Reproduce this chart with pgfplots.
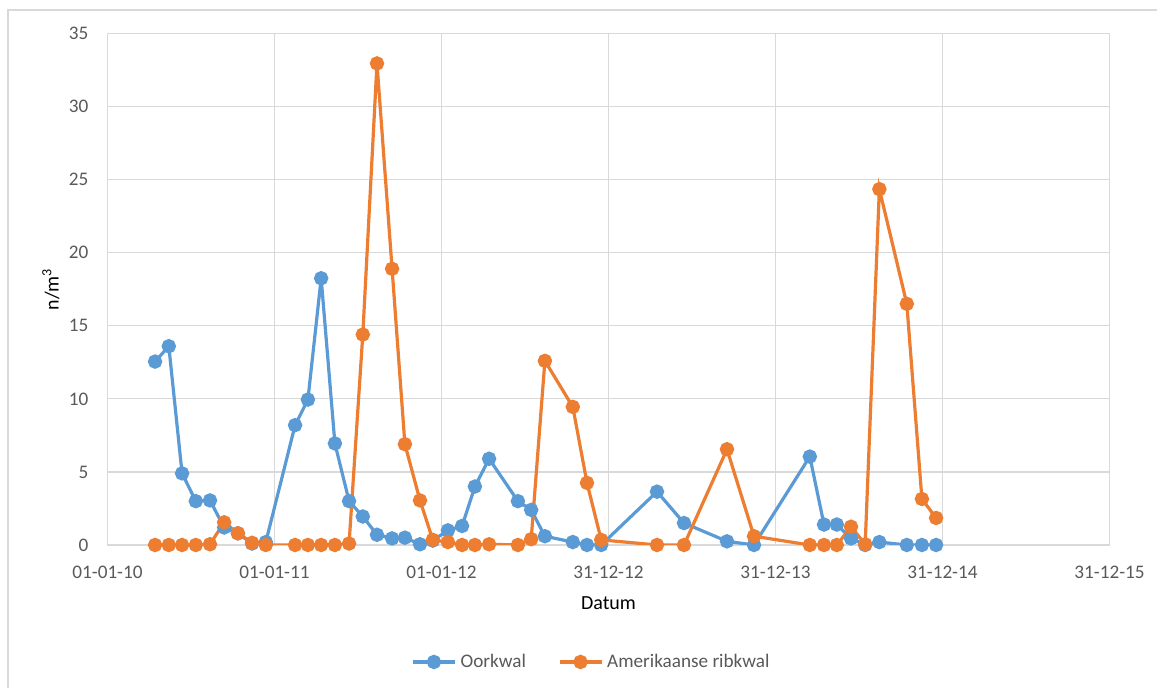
\documentclass[border=0pt]{standalone}
\usepackage{pgfplots}
\pgfplotsset{compat=1.18}
\usepackage{fontspec}
\setmainfont{Carlito}
\definecolor{txt}{HTML}{595959}
\definecolor{gridc}{HTML}{D9D9D9}
\definecolor{axc}{HTML}{BFBFBF}
\definecolor{cblue}{HTML}{5B9BD5}
\definecolor{corange}{HTML}{ED7D31}
\pgfplotstableread{
x y
104 12.55
134 13.6
163 4.9
193 3.0
224 3.05
255 1.2
285 0.8
316 0.1
346 0.2
410 8.2
438 9.95
467 18.25
497 6.95
528 3.0
558 1.95
589 0.7
622 0.45
650 0.5
683 0.05
711 0.3
744 1.0
775 1.3
803 4.0
834 5.9
897 3.0
926 2.4
956 0.6
1017 0.2
1048 0.0
1079 0.0
1201 3.65
1260 1.5
1354 0.25
1413 0.0
1535 6.05
1566 1.4
1594 1.4
1625 0.45
1656 0.0
1687 0.2
1747 0.0
1780 0.0
1811 0.0
}\oorkwal
\pgfplotstableread{
x y
104 0
134 0
163 0
193 0
224 0.05
255 1.55
285 0.8
316 0.15
346 0.0
410 0
438 0
467 0
497 0
528 0.1
558 14.4
589 32.95
622 18.9
650 6.9
683 3.05
711 0.35
744 0.2
775 0
803 0
834 0.05
897 0
926 0.4
956 12.6
1017 9.45
1048 4.25
1079 0.35
1201 0
1260 0
1354 6.55
1413 0.6
1535 0
1566 0
1594 0
1625 1.25
1656 0.05
1687 24.35
1747 16.5
1780 3.15
1811 1.85
}\ribkwal
\begin{document}
\begin{tikzpicture}
\useasboundingbox (-53.75pt,-71.5pt) rectangle (524.75pt,272.5pt);
\begin{axis}[
  scale only axis,
  width=501pt, height=255.75pt,
  xmin=0, xmax=2190, ymin=0, ymax=35,
  xtick={0,365,730,1095,1460,1825,2190},
  xticklabels={01-01-10,01-01-11,01-01-12,31-12-12,31-12-13,31-12-14,31-12-15},
  ytick={0,5,...,35},
  /pgf/number format/assume math mode=true,
  major tick length=0pt,
  axis line style={draw=none},
  grid=major,
  major grid style={color=gridc, line width=0.6pt},
  extra y ticks={0}, extra y tick labels={},
  extra y tick style={grid style={color=axc, line width=0.75pt}},
  tick label style={font=\fontsize{9.6}{11.5}\selectfont, text=txt},
  xticklabel style={yshift=-7pt},
  yticklabel style={xshift=-6pt},
  xlabel={Datum}, ylabel={n/m\textsuperscript{3}},
  label style={font=\fontsize{10.7}{12.8}\selectfont, text=txt},
  every axis x label/.style={at={(axis description cs:0.5,-0.1134)}, anchor=center},
  every axis y label/.style={at={(axis description cs:-0.0564,0.5)}, anchor=center, rotate=90},
  legend columns=2,
  legend style={at={(axis description cs:0.484,-0.2287)}, anchor=center, draw=none, fill=none,
    font=\fontsize{9.6}{11.5}\selectfont, text=txt,
    /tikz/every even column/.append style={column sep=14pt}},
  legend image code/.code={\draw[mark repeat=2,mark phase=2] plot coordinates {(0pt,0pt) (10.5pt,0pt) (21pt,0pt)};},
  every axis plot/.append style={line width=1.6pt, mark=*, mark size=2.8pt, mark options={solid}},
]
\addplot[color=cblue] table[x=x,y=y] {\oorkwal};
\addlegendentry{Oorkwal}
\addplot[color=corange] table[x=x,y=y] {\ribkwal};
\addlegendentry{Amerikaanse ribkwal}
\end{axis}
\draw[color=gridc, line width=0.75pt] (-49.75pt,-72pt) -- (-49.75pt,267.5pt) -- (526pt,267.5pt);
\end{tikzpicture}
\end{document}
